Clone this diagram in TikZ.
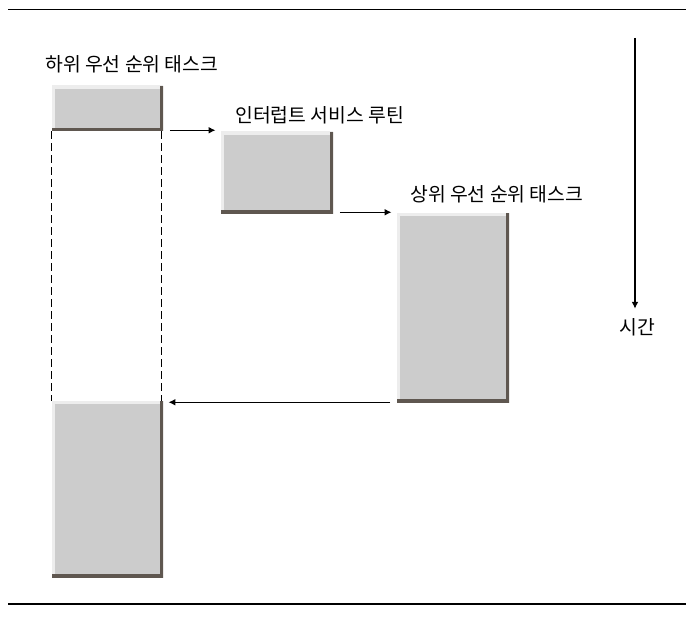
\documentclass[tikz,border=0pt]{standalone}
\usepackage{fontspec}
\setmainfont{Noto Sans CJK KR}
\usetikzlibrary{arrows.meta,calc}
\definecolor{boxgray}{HTML}{CCCCCC}
\definecolor{edgelight}{HTML}{EDEDED}
\definecolor{edgedark}{HTML}{5F5750}
\begin{document}
\begin{tikzpicture}[x=0.75pt, y=-0.75pt, >={Latex[length=5pt,width=5pt]},
    font=\fontsize{14.5pt}{17pt}\selectfont]
  \tikzset{taskbox/.style={fill=boxgray, inner sep=0pt, minimum width=#1,
      path picture={
        \draw[edgelight, line width=4.5pt] (path picture bounding box.south west)
          -- (path picture bounding box.north west) -- (path picture bounding box.north east);
        \draw[edgedark, line width=4.5pt] (path picture bounding box.north east)
          -- (path picture bounding box.south east) -- (path picture bounding box.south west);
      }},
    lbl/.style={inner sep=0pt, anchor=west},
    link/.style={->, line width=0.8pt, shorten <=5pt, shorten >=4pt}}
  \useasboundingbox (0,0) rectangle (697,617);
  % rules top and bottom
  \draw[line width=1pt] (8,9.5) -- (686,9.5);
  \draw[line width=1pt] (8,604) -- (686,604);
  % tasks
  \node[taskbox=83.25pt, minimum height=33.75pt] (low1) at (107.5,108.5) {};
  \node[taskbox=84pt, minimum height=60.75pt] (isr) at (277,172.5) {};
  \node[taskbox=84pt, minimum height=141.75pt] (high) at (453,307.5) {};
  \node[taskbox=83.25pt, minimum height=132pt] (low2) at (107.5,489) {};
  \draw[dashed, dash pattern=on 6pt off 3pt, line width=0.8pt] (low1.south west) -- (low2.north west);
  \draw[dashed, dash pattern=on 6pt off 3pt, line width=0.8pt] ($(low1.south east)+(-2,0)$) -- ($(low2.north east)+(-2,0)$);
  % labels
  \node[lbl] (lowlbl) at (45,64) {하위 우선 순위 태스크};
  \node[lbl] (isrlbl) at (235,115) {인터럽트 서비스 루틴};
  \node[lbl] (highlbl) at (410,194) {상위 우선 순위 태스크};
  % transitions
  \draw[link] ($(low1.south east)+(0,-1)$) -- ($(low1.south east -| isr.west)+(0,-1)$);
  \draw[link] ($(isr.south east)+(0,-1)$) -- ($(isr.south east -| high.west)+(0,-1)$);
  \draw[link] (high.south west) -- (high.south west -| low2.east);
  % time axis
  \coordinate (t0) at (635,38);
  \node[inner sep=0pt] (time) at (637,327) {시간};
  \draw[->, line width=0.8pt, shorten >=7pt] (t0) -- (time.north -| t0);
\end{tikzpicture}
\end{document}
